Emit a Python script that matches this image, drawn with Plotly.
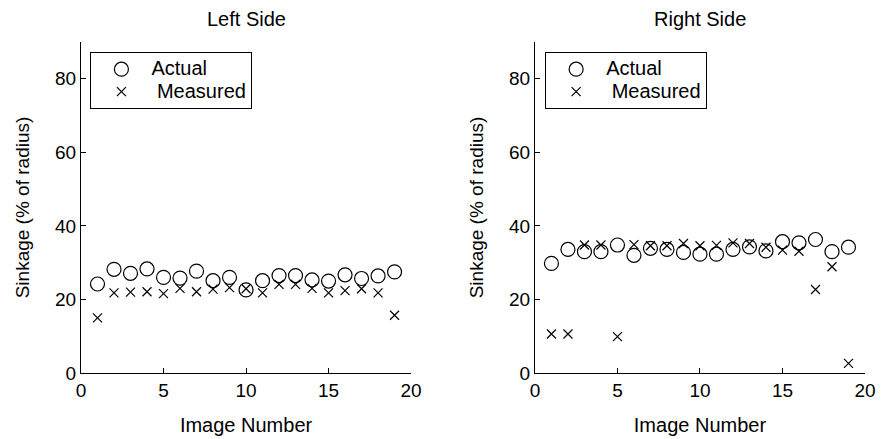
import plotly.graph_objects as go

image_number = list(range(1, 20))
left_actual = [24.2, 28.2, 27.1, 28.3, 26.0, 25.8, 27.7, 25.1, 26.0, 22.6,
               25.1, 26.5, 26.5, 25.3, 25.0, 26.7, 25.7, 26.4, 27.5]
left_measured = [15.0, 21.8, 22.0, 22.1, 21.6, 23.0, 22.1, 22.8, 23.2, 22.9,
                 21.8, 24.1, 24.1, 23.0, 21.8, 22.4, 22.9, 21.8, 15.7]
right_actual = [29.8, 33.6, 33.0, 33.0, 34.8, 32.0, 33.9, 33.6, 32.8, 32.3,
                32.3, 33.6, 34.3, 33.2, 35.7, 35.4, 36.3, 33.0, 34.2]
right_measured = [10.6, 10.6, 34.8, 34.8, 9.9, 34.9, 34.6, 34.6, 35.2, 34.6,
                  34.7, 35.4, 35.2, 34.2, 33.4, 33.1, 22.7, 28.9, 2.6]
x_ticks = [0, 5, 10, 15, 20]
y_ticks = [0, 20, 40, 60, 80]
titles = ["Left Side", "Right Side"]
legend_names = ["Actual", "\u00a0Measured"]

FONT = "Liberation Sans, Arial"


def lname(s):
    return '<span style="font-size:20px">' + s + '</span>'


fig = go.Figure()
circle = dict(symbol="circle-open", size=14, color="black", line=dict(width=1.2, color="black"))
cross = dict(symbol="x-thin-open", size=9, color="black", line=dict(width=1.2, color="black"))

fig.add_trace(go.Scatter(x=image_number, y=left_actual, mode="markers", marker=circle,
                         name=lname(legend_names[0]), xaxis="x", yaxis="y", legend="legend"))
fig.add_trace(go.Scatter(x=image_number, y=left_measured, mode="markers", marker=cross,
                         name=lname(legend_names[1]), xaxis="x", yaxis="y", legend="legend"))
fig.add_trace(go.Scatter(x=image_number, y=right_actual, mode="markers", marker=circle,
                         name=lname(legend_names[0]), xaxis="x2", yaxis="y2", legend="legend2"))
fig.add_trace(go.Scatter(x=image_number, y=right_measured, mode="markers", marker=cross,
                         name=lname(legend_names[1]), xaxis="x2", yaxis="y2", legend="legend2"))

axis_common = dict(showline=True, linecolor="black", linewidth=1, showgrid=False,
                   zeroline=False, ticks="inside", ticklen=5, tickcolor="black",
                   tickfont=dict(family=FONT, size=19, color="black"), mirror=False,
                   automargin=False)

xtitle = dict(text="Image Number", font=dict(family=FONT, size=20, color="black"), standoff=18)
ytitle = dict(text="Sinkage (% of radius)", font=dict(family=FONT, size=19, color="black"), standoff=20)

xdom1 = [0, 0.421]
xdom2 = [0.579, 1]
leg = dict(y=0.97, xanchor="left", yanchor="top", bordercolor="black",
           borderwidth=1, bgcolor="white", font=dict(family=FONT, size=15, color="black"),
           itemwidth=50, tracegroupgap=0)
fig.update_layout(
    width=877, height=431,
    margin=dict(l=73, r=20, t=34, b=66),
    plot_bgcolor="white", paper_bgcolor="white",
    xaxis=dict(domain=xdom1, range=[0, 20], tickvals=x_ticks, anchor="y", title=xtitle, **axis_common),
    yaxis=dict(domain=[0, 1], range=[0, 90], tickvals=y_ticks, anchor="x", title=ytitle, **axis_common),
    xaxis2=dict(domain=xdom2, range=[0, 20], tickvals=x_ticks, anchor="y2", title=xtitle, **axis_common),
    yaxis2=dict(domain=[0, 1], range=[0, 90], tickvals=y_ticks, anchor="x2", title=ytitle, **axis_common),
    legend=dict(x=0.012, **leg),
    legend2=dict(x=0.592, **leg),
)

for dom, t in zip([xdom1, xdom2], titles):
    fig.add_annotation(text=t, x=(dom[0] + dom[1]) / 2, y=1, xref="paper", yref="paper",
                       xanchor="center", yanchor="bottom", yshift=10, showarrow=False,
                       font=dict(family=FONT, size=20, color="black"))

fig.write_html("out.html")
